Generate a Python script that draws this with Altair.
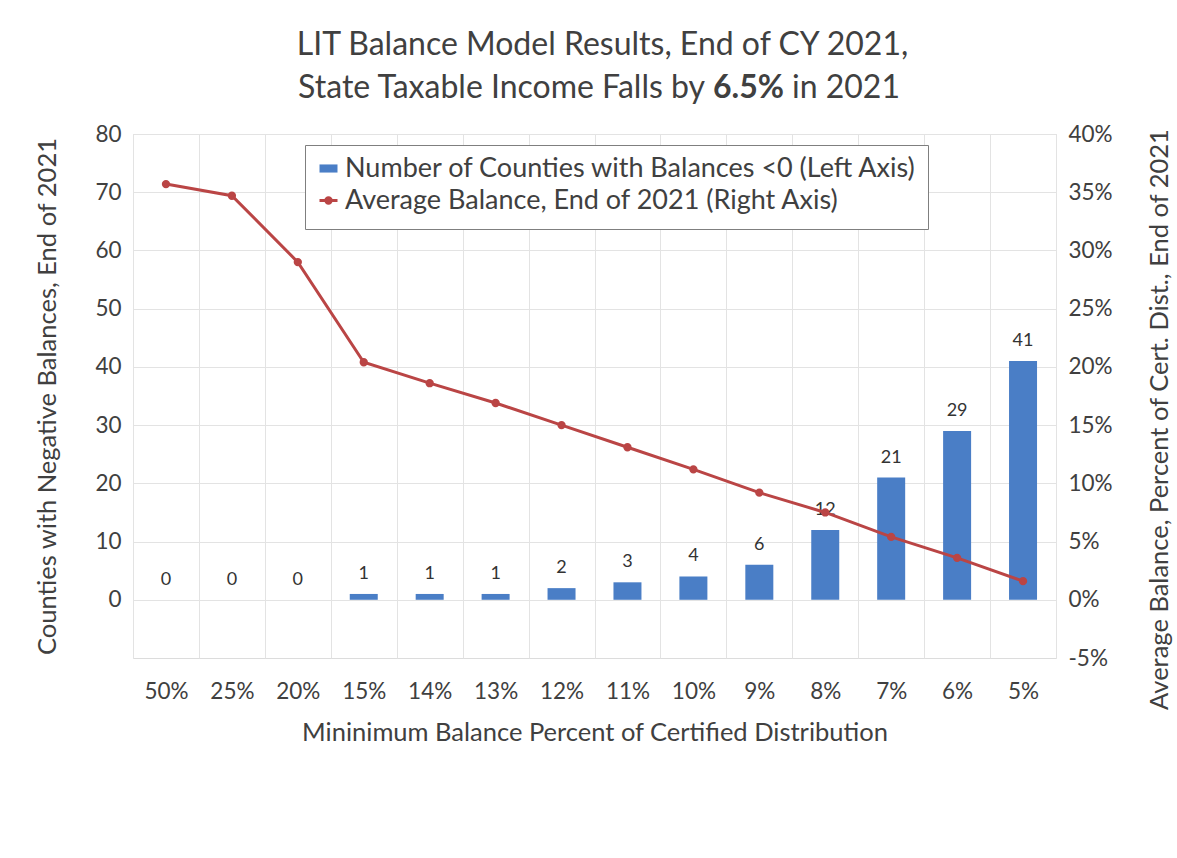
import altair as alt
import pandas as pd

# Minimum balance thresholds (x axis, in display order)
thresholds = ["50%", "25%", "20%", "15%", "14%", "13%", "12%", "11%",
              "10%", "9%", "8%", "7%", "6%", "5%"]
# Number of counties with negative balances (left axis)
neg_counties = [0, 0, 0, 1, 1, 1, 2, 3, 4, 6, 12, 21, 29, 41]
# Average balance as a share of certified distribution (right axis)
avg_balance = [0.357, 0.347, 0.290, 0.204, 0.186, 0.169, 0.150, 0.131,
               0.112, 0.092, 0.075, 0.054, 0.036, 0.016]

left_ticks = [0, 10, 20, 30, 40, 50, 60, 70, 80]
right_ticks = [-0.05, 0.0, 0.05, 0.10, 0.15, 0.20, 0.25, 0.30, 0.35, 0.40]

BAR_NAME = "Number of Counties with Balances <0 (Left Axis)"
LINE_NAME = "Average Balance, End of 2021 (Right Axis)"

BLUE = "#4A7EC6"
RED = "#BA4545"
TEXT = "#404040"
FONT = "Lato"
TITLE_SIZE = 32
LEGEND_SIZE = 27

df = pd.DataFrame({
    "threshold": thresholds,
    "count": neg_counties,
    "avg": avg_balance,
    "bar_series": BAR_NAME,
    "line_series": LINE_NAME,
})

x_enc = alt.X(
    "threshold:N",
    sort=thresholds,
    scale=alt.Scale(paddingInner=0, paddingOuter=0),
    axis=alt.Axis(
        title="Mininimum Balance Percent of Certified Distribution",
        labelAngle=0, tickBand="extent", grid=True, ticks=False,
        domain=False, labelPadding=22, titlePadding=18,
    ),
)

left_scale = alt.Scale(domain=[-10, 80], nice=False)

bars = alt.Chart(df).mark_bar(size=28).encode(
    x=x_enc,
    y=alt.Y(
        "count:Q", scale=left_scale,
        axis=alt.Axis(
            title="Counties with Negative Balances, End of 2021",
            values=left_ticks, grid=True, ticks=False, domain=False,
            labelPadding=12, titlePadding=34,
        ),
    ),
    fill=alt.Fill(
        "bar_series:N",
        scale=alt.Scale(domain=[BAR_NAME, LINE_NAME], range=[BLUE, "transparent"]),
        legend=alt.Legend(
            title=None, orient="none", legendX=172, legendY=11,
            direction="vertical",
            symbolType="M-1,-0.45L1,-0.45L1,0.45L-1,0.45Z",
            symbolSize=324, symbolStrokeWidth=0,
            labelFont=FONT, labelFontSize=LEGEND_SIZE, labelColor=TEXT,
            labelLimit=900, labelOffset=3,
            padding=10, rowPadding=9,
            strokeColor="#7f7f7f", fillColor="white",
            labelExpr=f"datum.label == '{LINE_NAME}' ? '' : datum.label",
            zindex=1,
        ),
    ),
)

bar_labels = alt.Chart(df).mark_text(
    dy=-20, font=FONT, fontSize=18, color="#333333", baseline="middle"
).encode(
    x=alt.X("threshold:N", sort=thresholds),
    y=alt.Y("count:Q", scale=left_scale),
    text=alt.Text("count:Q"),
)

line = alt.Chart(df).mark_line(
    strokeWidth=3,
    point=alt.OverlayMarkDef(filled=True, size=40, color=RED),
).encode(
    x=alt.X("threshold:N", sort=thresholds),
    y=alt.Y(
        "avg:Q",
        scale=alt.Scale(domain=[-0.05, 0.40], nice=False),
        axis=alt.Axis(
            orient="right",
            title="Average Balance, Percent of Cert. Dist., End of 2021",
            titleAngle=-90, titleY=285,
            values=right_ticks,
            labelExpr="(datum.value < -0.0001 ? '-' : '') + format(abs(datum.value), '.0%')",
            grid=False, ticks=False, domain=False,
            labelPadding=12, titlePadding=60,
        ),
    ),
    stroke=alt.Stroke(
        "line_series:N",
        scale=alt.Scale(domain=[LINE_NAME], range=[RED]),
        legend=alt.Legend(
            title=None, orient="none", legendX=172, legendY=43,
            symbolType="M-1,0L1,0M-0.3,0A0.3,0.3,0,1,0,0.3,0A0.3,0.3,0,1,0,-0.3,0Z",
            symbolSize=324, symbolStrokeWidth=3,
            symbolFillColor=RED, symbolStrokeColor=RED,
            labelFont=FONT, labelFontSize=LEGEND_SIZE, labelColor=TEXT,
            labelLimit=900, labelOffset=3,
            padding=10, zindex=2,
        ),
    ),
)

# Second title line, with the bold income drop figure
sub_data = alt.Data(values=[{"a": 1}])
sub_left = alt.Chart(sub_data).mark_text(
    text="State Taxable Income Falls by", align="right", baseline="middle",
    font=FONT, fontSize=TITLE_SIZE, color=TEXT,
).encode(x=alt.value(572), y=alt.value(-46))
sub_bold = alt.Chart(sub_data).mark_text(
    text="6.5%", align="left", baseline="middle",
    font=FONT, fontSize=TITLE_SIZE, fontWeight="bold", color=TEXT,
).encode(x=alt.value(580), y=alt.value(-46))
sub_right = alt.Chart(sub_data).mark_text(
    text="in 2021", align="left", baseline="middle",
    font=FONT, fontSize=TITLE_SIZE, color=TEXT,
).encode(x=alt.value(659), y=alt.value(-46))

left_layer = alt.layer(bars, bar_labels)

chart = alt.layer(left_layer, line, sub_left, sub_bold, sub_right).resolve_scale(
    y="independent"
).properties(
    width=923,
    height=524,
    title=alt.Title(
        "LIT Balance Model Results, End of CY 2021,",
        font=FONT, fontSize=TITLE_SIZE, fontWeight="normal", color=TEXT,
        anchor="middle", offset=10, dx=8,
    ),
    autosize=alt.AutoSizeParams(type="none"),
    padding={"left": 133, "top": 134, "right": 121, "bottom": 200},
    background="white",
).configure_view(
    stroke="#dcdcdc", strokeWidth=1
).configure_axis(
    labelFont=FONT, labelFontSize=22.5, labelColor=TEXT,
    titleFont=FONT, titleFontSize=25.5, titleColor=TEXT, titleFontWeight="normal",
    gridColor="#e3e3e3", gridWidth=1,
)

chart.save("out.html", embed_options={"renderer": "svg", "actions": False})
